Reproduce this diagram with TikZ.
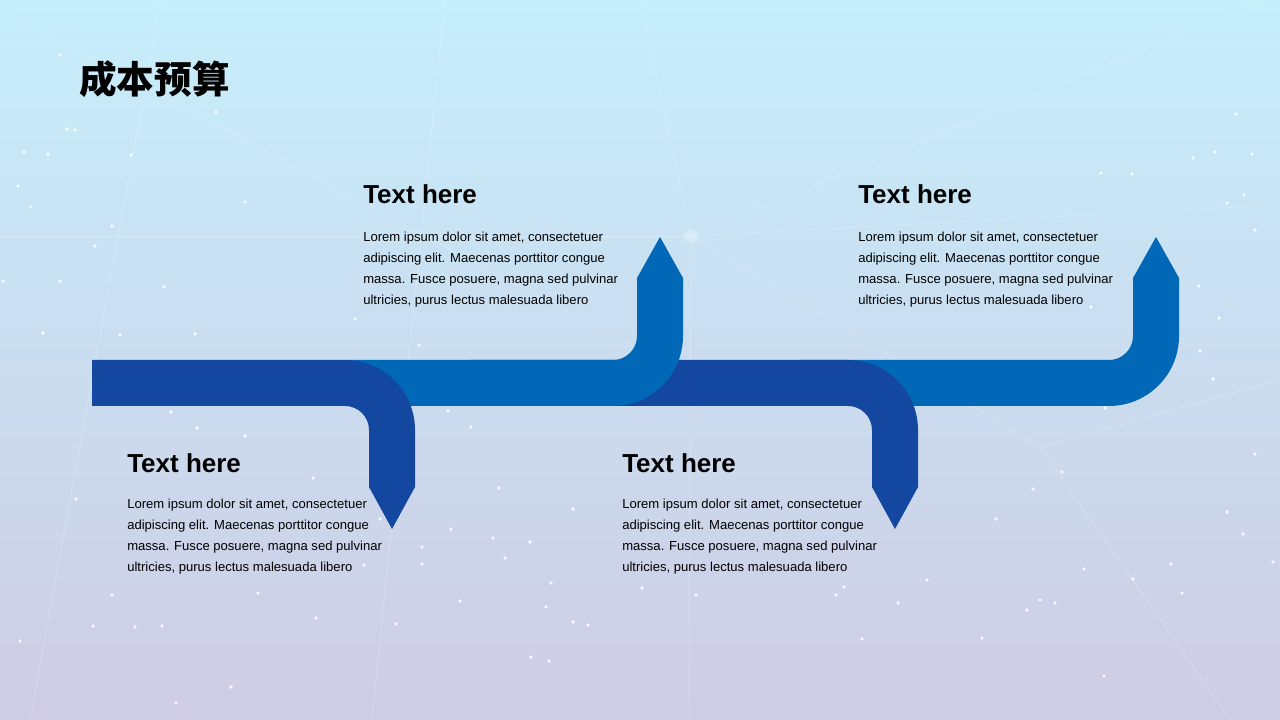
\documentclass[tikz,border=0pt]{standalone}
\usepackage{fontspec}
\setmainfont{Liberation Sans}
\newfontfamily\cjkfont{Noto Sans CJK SC}
\usepackage{tikz}
\usetikzlibrary{positioning}

\definecolor{bluedark}{HTML}{1448A0}
\definecolor{bluelight}{HTML}{0068B7}
\definecolor{bgtop}{HTML}{C6EEFB}
\definecolor{bgmid}{HTML}{CCDCEE}
\definecolor{bgbot}{HTML}{CFCCE4}

\tikzset{
	head/.style={font=\bfseries\fontsize{19.5}{23}\selectfont, inner sep=0pt, anchor=base west},
	body/.style={font=\fontsize{9.8}{15.75}\selectfont, align=left, inner sep=0pt, anchor=north west},
	netline/.style={white, opacity=0.22, line width=0.6pt},
	star/.style={white, opacity=0.85}
}

\begin{document}
\begin{tikzpicture}[x=0.75pt, y=0.75pt, line join=round]
			% background
			\shade[top color=bgtop, middle color=bgmid, bottom color=bgbot] (0,0) rectangle (1280,720);
			\useasboundingbox (0,0) rectangle (1280,720);
			
			% faint network
			\draw[netline] (0,710) -- (640,370);
			\draw[netline] (445,720) -- (372,0);
			\draw[netline] (161,720) -- (30,0);
			\draw[netline] (640,720) -- (691,484) -- (1264,720);
			\draw[netline] (691,484) -- (1280,515);
			\draw[netline] (691,484) -- (1040,273) -- (1280,340);
			\draw[netline] (1040,273) -- (1230,0);
			\draw[netline] (691,484) -- (689,0);
			\draw[netline] (0,484) -- (691,484);
			\fill[white, opacity=0.25] (691,484) circle (7);
			
			% stars
			\foreach \px/\py in {60/55,216/112,67/129,75/130,131/155,48/154,24/152,18/186,245/202,31/207,
				112/226,95/246,60/281,164/287,3/281,43/333,195/334,120/335,355/319,419/345,
				1236/114,1215/152,1252/154,1193/158,1101/173,1132/174,1244/195,1227/203,1255/230,
				1199/286,1219/318,1091/307,1200/351,171/412,197/428,245/436,313/478,76/499,380/519,
				451/529,493/538,530/542,422/547,505/558,422/564,364/565,258/593,112/595,551/583,
				460/601,546/607,316/618,396/624,93/626,135/627,162/626,573/622,588/625,20/641,
				531/657,549/661,231/687,176/703,448/411,471/427,499/488,573/509,1105/408,1062/472,
				1033/489,1255/454,996/519,1243/534,1273/562,1084/569,1133/579,927/580,1171/564,
				1182/593,1040/600,1055/603,1027/610,898/603,844/587,836/595,862/639,982/638,
				1104/676,1213/379,1227/512,696/595,642/588}
				\fill[star] (\px,{720-\py}) circle (1.8);
			
			% title
			\node[font=\cjkfont\bfseries\fontsize{28.2}{33}\selectfont, inner sep=0pt, anchor=base west] (title) at (79,626) {成本预算};
			
			% arrows, back to front
			\fill[bluelight] (800,314) -- (1109,314) arc[start angle=-90, end angle=0, radius=70]
				-- (1179,442) -- (1156,483) -- (1133,442) -- (1133,384)
				arc[start angle=0, end angle=-90, radius=24] -- (800,360) -- cycle;
			\fill[bluedark] (470,360) -- (848,360) arc[start angle=90, end angle=0, radius=70]
				-- (918,233) -- (895,191) -- (872,233) -- (872,290)
				arc[start angle=0, end angle=90, radius=24] -- (470,314) -- cycle;
			\fill[bluelight] (345,314) -- (613,314) arc[start angle=-90, end angle=0, radius=70]
				-- (683,442) -- (660,483) -- (637,442) -- (637,384)
				arc[start angle=0, end angle=-90, radius=24] -- (345,360) -- cycle;
			\fill[bluedark] (92,360) -- (345,360) arc[start angle=90, end angle=0, radius=70]
				-- (415,233) -- (392,191) -- (369,233) -- (369,290)
				arc[start angle=0, end angle=90, radius=24] -- (92,314) -- cycle;
			
			% text blocks
			\node[head] (headA) at (363,516) {Text here};
			\node[body] (bodyA) at (363,488) {Lorem ipsum dolor sit amet, consectetuer\\adipiscing elit. Maecenas porttitor congue\\massa. Fusce posuere, magna sed pulvinar\\ultricies, purus lectus malesuada libero};
			
			\node[head] (headB) at (858,516) {Text here};
			\node[body] (bodyB) at (858,488) {Lorem ipsum dolor sit amet, consectetuer\\adipiscing elit. Maecenas porttitor congue\\massa. Fusce posuere, magna sed pulvinar\\ultricies, purus lectus malesuada libero};
			
			\node[head] (headC) at (127,247) {Text here};
			\node[body] (bodyC) at (127,221.5) {Lorem ipsum dolor sit amet, consectetuer\\adipiscing elit. Maecenas porttitor congue\\massa. Fusce posuere, magna sed pulvinar\\ultricies, purus lectus malesuada libero};
			
			\node[head] (headD) at (622,247) {Text here};
			\node[body] (bodyD) at (622,221.5) {Lorem ipsum dolor sit amet, consectetuer\\adipiscing elit. Maecenas porttitor congue\\massa. Fusce posuere, magna sed pulvinar\\ultricies, purus lectus malesuada libero};
		\end{tikzpicture}
\end{document}
